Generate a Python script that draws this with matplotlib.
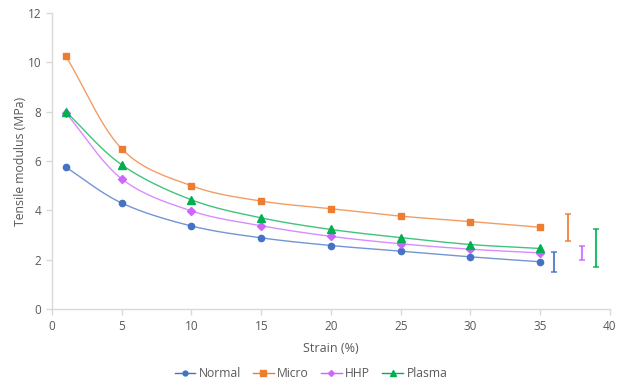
import numpy as np
import matplotlib
matplotlib.use("Agg")
import matplotlib.pyplot as plt

strain = [1, 5, 10, 15, 20, 25, 30, 35]
normal = [5.75, 4.30, 3.37, 2.89, 2.58, 2.35, 2.12, 1.92]
micro = [10.25, 6.50, 5.00, 4.38, 4.07, 3.77, 3.55, 3.32]
hhp = [7.95, 5.28, 3.98, 3.38, 2.95, 2.65, 2.43, 2.28]
plasma = [8.00, 5.85, 4.43, 3.70, 3.23, 2.90, 2.62, 2.46]

# separate error bars drawn to the right of the curves
err_x = [36, 37, 38, 39]
err_center = [1.91, 3.31, 2.28, 2.48]
err_half = [0.40, 0.55, 0.27, 0.78]

names = ["Normal", "Micro", "HHP", "Plasma"]
colors = ["#4472C4", "#ED7D31", "#CC66FF", "#00B050"]
markers = ["o", "s", "D", "^"]
msizes = [4.5, 5, 4, 5.5]

TEXT = "#595959"
AXIS = "#D9D9D9"


def smooth(x, y, n=20):
    # Catmull-Rom bezier smoothing, like Excel's "smoothed line"
    x = np.asarray(x, float)
    y = np.asarray(y, float)
    px = np.concatenate([[2 * x[0] - x[1]], x, [2 * x[-1] - x[-2]]])
    py = np.concatenate([[2 * y[0] - y[1]], y, [2 * y[-1] - y[-2]]])
    t = np.linspace(0, 1, n)
    b0, b1, b2, b3 = (1 - t) ** 3, 3 * (1 - t) ** 2 * t, 3 * (1 - t) * t ** 2, t ** 3
    xs, ys = [], []
    for i in range(1, len(px) - 2):
        for p, out in ((px, xs), (py, ys)):
            c1 = p[i] + (p[i + 1] - p[i - 1]) / 6.0
            c2 = p[i + 1] - (p[i + 2] - p[i]) / 6.0
            out.append(b0 * p[i] + b1 * c1 + b2 * c2 + b3 * p[i + 1])
    return np.concatenate(xs), np.concatenate(ys)


plt.rcParams["font.family"] = ["Open Sans", "DejaVu Sans"]

fig = plt.figure(figsize=(6.22, 3.85), dpi=100)
ax = fig.add_axes([0.0836, 0.197, 0.897, 0.769])

handles = []
for yv, c, m, ms, name in zip([normal, micro, hhp, plasma], colors, markers, msizes, names):
    sx, sy = smooth(strain, yv)
    ax.plot(sx, sy, color=c, lw=1.0, alpha=0.75, zorder=2)
    ax.plot(strain, yv, ls="none", marker=m, ms=ms, color=c, zorder=3)
    h, = ax.plot([], [], color=c, lw=1.0, marker=m, ms=ms - 1, label=name)
    handles.append(h)

for x, yc, e, c in zip(err_x, err_center, err_half, colors):
    ax.errorbar([x], [yc], yerr=[e], fmt="none", ecolor=c, elinewidth=1.5,
                capsize=2.5, capthick=1.2, alpha=0.85)

ax.set_xlim(0, 40)
ax.set_ylim(0, 12)
ax.set_xticks(range(0, 41, 5))
ax.set_yticks(range(0, 13, 2))

for s in ["top", "right"]:
    ax.spines[s].set_visible(False)
for s in ["left", "bottom"]:
    ax.spines[s].set_color(AXIS)
    ax.spines[s].set_linewidth(1.0)
ax.tick_params(axis="both", colors=AXIS, labelcolor=TEXT, labelsize=8.5, length=4, width=1)

ax.set_xlabel("Strain (%)", color=TEXT, fontsize=9, labelpad=7)
ax.set_ylabel("Tensile modulus (MPa)", color=TEXT, fontsize=8.8, labelpad=1)

fig.legend(handles=handles, loc="lower center", ncol=4, frameon=False,
           bbox_to_anchor=(0.5, -0.015), fontsize=8.7, labelcolor=TEXT,
           handlelength=1.7, handletextpad=0.3, columnspacing=1.0)

fig.savefig("out.png", dpi=100)
